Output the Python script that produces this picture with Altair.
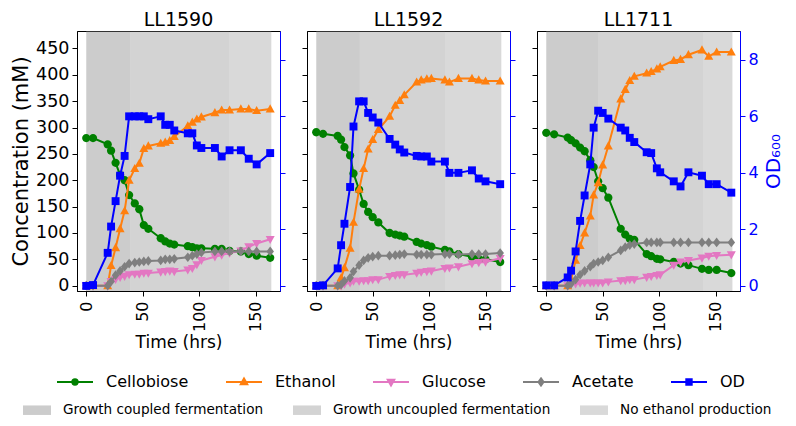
import altair as alt
import pandas as pd

# ---------------- data ----------------
panels = ["LL1590", "LL1592", "LL1711"]
series_names = ["Cellobiose", "Ethanol", "Glucose", "Acetate", "OD"]
series_colors = ["#008000", "#ff7f0e", "#e377c2", "#7f7f7f", "#0000ff"]
# plot markers (normalised symbol paths): circle, triangle up, triangle down, diamond, square
marker_paths = [
    "M-0.23,0A0.23,0.23,0,1,0,0.23,0A0.23,0.23,0,1,0,-0.23,0Z",
    "M0,-0.26L0.25,0.19L-0.25,0.19Z",
    "M0,0.26L0.25,-0.19L-0.25,-0.19Z",
    "M0,-0.27L0.21,0L0,0.27L-0.21,0Z",
    "M-0.22,-0.22L0.22,-0.22L0.22,0.22L-0.22,0.22Z",
]
# legend glyphs: line segment with the marker in its middle
legend_paths = [
    "M-1,0L1,0M-0.15,0A0.15,0.15,0,1,0,0.15,0A0.15,0.15,0,1,0,-0.15,0Z",
    "M-1,0L1,0M0,-0.19L0.18,0.13L-0.18,0.13Z",
    "M-1,0L1,0M0,0.19L0.18,-0.13L-0.18,-0.13Z",
    "M-1,0L1,0M0,-0.2L0.14,0L0,0.2L-0.14,0Z",
    "M-1,0L1,0M-0.15,-0.15L0.15,-0.15L0.15,0.15L-0.15,0.15Z",
]

phase_names = ["Growth coupled fermentation", "Growth uncoupled fermentation", "No ethanol production"]
phase_opacity = [0.4, 0.3, 0.2]

# LL1590
time_1590 = [0, 6, 19, 22, 26, 30, 34, 38, 43, 47, 51, 55, 66, 70, 74, 78, 90, 94, 98, 102, 114, 120, 127, 137, 144, 151, 163]
cellobiose_1590 = [280, 280, 268, 256, 233, 210, 200, 172, 156, 145, 115, 108, 90, 84, 80, 78, 75, 73, 71, 71, 70, 70, 66, 65, 60, 57, 53]
ethanol_1590 = [0, 0, 0, 38, 72, 108, 142, 200, 222, 232, 260, 265, 270, 272, 275, 283, 303, 310, 316, 320, 328, 333, 333, 335, 335, 332, 335]
glucose_1590 = [0, 0, 0, 8, 12, 16, 18, 21, 22, 22, 24, 24, 26, 27, 28, 27, 30, 33, 40, 48, 55, 58, 62, 66, 74, 80, 88]
acetate_1590 = [0, 0, 0, 8, 20, 28, 36, 42, 44, 45, 46, 47, 48, 50, 50, 51, 54, 57, 60, 63, 65, 65, 65, 65, 65, 65, 65]
od_1590 = [0, 0.03, 1.17, 2.1, 3.0, 3.9, 4.6, 6.0, 6.0, 6.0, 6.0, 5.9, 6.0, 5.7, 5.7, 5.5, 5.4, 5.4, 4.97, 4.88, 4.88, 4.58, 4.8, 4.8, 4.5, 4.3, 4.7]
phases_1590 = [0, 39, 127, 164]

# LL1592
time_1592 = [0, 6, 19, 22, 25, 30, 33, 38, 42, 46, 50, 55, 65, 70, 74, 78, 89, 93, 98, 102, 114, 118, 126, 138, 144, 150, 163]
cellobiose_1592 = [291, 288, 284, 277, 263, 247, 213, 182, 155, 140, 130, 120, 100, 97, 95, 93, 83, 80, 77, 74, 68, 65, 60, 55, 51, 50, 45]
ethanol_1592 = [0, 0, 0, 15, 34, 71, 120, 183, 222, 259, 277, 296, 321, 342, 351, 362, 386, 390, 392, 393, 390, 386, 393, 393, 390, 388, 388]
glucose_1592 = [0, 0, 0, 0, 3, 5.5, 8.6, 8.6, 9.8, 9.8, 11.6, 11.6, 17.7, 19.6, 20.8, 20.8, 23.8, 25.7, 26.9, 28, 33, 34, 36, 42, 44, 45, 52]
acetate_1592 = [0, 0, 0, 2, 9, 15, 27, 39, 48, 53, 55, 57, 57, 58, 59, 60, 59, 59, 59, 59, 60, 60, 59, 60, 60, 60, 62]
od_1592 = [0, 0.02, 0.62, 1.44, 2.2, 3.5, 5.64, 6.53, 6.53, 6.12, 5.96, 5.78, 5.2, 5.0, 4.83, 4.72, 4.6, 4.58, 4.58, 4.4, 4.4, 4.0, 4.0, 4.09, 3.8, 3.7, 3.6]
phases_1592 = [0, 38.6, 114.6, 164]

# LL1711
time_1711 = [0, 7, 19, 22, 26, 30, 34, 39, 42, 46, 50, 55, 66, 70, 74, 78, 89, 93, 98, 101, 113, 119, 126, 138, 144, 151, 164]
cellobiose_1711 = [290, 287, 281, 276, 270, 262, 255, 238, 225, 198, 185, 167, 108, 97, 89, 87, 60, 56, 51, 50, 45, 42, 39, 32, 30, 30, 24]
ethanol_1711 = [0, 0, 0, 12, 48, 76, 100, 132, 172, 195, 229, 265, 354, 372, 389, 397, 403, 406, 411, 415, 427, 429, 438, 447, 435, 443, 443]
glucose_1711 = [0, 0, 0, 3.7, 3.7, 4.9, 5.5, 5.5, 5.5, 5.5, 5.5, 7.3, 9.8, 9.8, 11.6, 11.6, 16, 17.7, 19.6, 20.8, 39, 45, 48, 52.6, 56, 57.5, 58.7]
acetate_1711 = [0, 0, 0, 3.7, 11.6, 20.8, 28, 36, 42, 45, 48, 54, 67, 73, 77, 79, 82, 82, 82, 82, 82, 82, 82, 82, 82, 82, 82]
od_1711 = [0.02, 0.02, 0.3, 0.54, 1.22, 2.3, 3.2, 4.3, 5.6, 6.2, 6.12, 5.92, 5.6, 5.5, 5.24, 5.09, 4.73, 4.7, 4.16, 4.02, 3.7, 3.52, 4.02, 3.9, 3.6, 3.6, 3.3]
phases_1711 = [0, 46, 139, 165]

panel_data = {
    "LL1590": (time_1590, [cellobiose_1590, ethanol_1590, glucose_1590, acetate_1590], od_1590, phases_1590),
    "LL1592": (time_1592, [cellobiose_1592, ethanol_1592, glucose_1592, acetate_1592], od_1592, phases_1592),
    "LL1711": (time_1711, [cellobiose_1711, ethanol_1711, glucose_1711, acetate_1711], od_1711, phases_1711),
}

# ---------------- styling ----------------
FONT = "DejaVu Sans"
W, H = 203, 260
YTICK_FS = 17.5
XTICK_FS = 16
XTITLE_FS = 17
YTITLE_FS = 21
LEG1_FS = 16
LEG2_FS = 13.6

opac_scale = alt.Scale(domain=phase_names, range=phase_opacity)
leg_fill_scale = alt.Scale(domain=series_names, range=series_colors)
leg_shape_scale = alt.Scale(domain=series_names, range=legend_paths)

LEG1_X, LEG1_Y = -21, H + 72
LEG2_X, LEG2_Y = -54, H + 105

leg_series = alt.Legend(title=None, orient="none", legendX=LEG1_X, legendY=LEG1_Y, direction="horizontal",
                        symbolSize=1296, symbolStrokeWidth=2, symbolOpacity=1, labelFontSize=LEG1_FS,
                        labelFont=FONT, labelOffset=12, columnPadding=33, labelColor="black", labelLimit=400)
leg_phase = alt.Legend(title=None, orient="none", legendX=LEG2_X, legendY=LEG2_Y, direction="horizontal",
                       symbolType="M-1,-0.34L1,-0.34L1,0.34L-1,0.34Z", symbolSize=784, symbolStrokeWidth=0,
                       symbolFillColor="gray", labelFontSize=LEG2_FS, labelFont=FONT, labelOffset=12,
                       columnPadding=29, labelColor="black", labelLimit=400)

x_scale = alt.Scale(domain=[-8.2, 171.7], nice=False, zero=False)
y_scale = alt.Scale(domain=[-10, 483], nice=False, zero=False)
od_scale = alt.Scale(domain=[-0.18, 9.02], nice=False, zero=False)


def make_panel(idx, name):
    times, conc_lists, od_vals, bounds = panel_data[name]
    first, last = idx == 0, idx == 2

    rows = []
    for s, vals in zip(series_names[:4], conc_lists):
        for t, v in zip(times, vals):
            rows.append({"t": t, "value": v, "series": s})
    conc_df = pd.DataFrame(rows)
    od_df = pd.DataFrame({"t": times, "od": od_vals, "series": series_names[4]})
    band_df = pd.DataFrame({"start": bounds[:-1], "end": bounds[1:], "phase": phase_names})

    x_axis = alt.Axis(values=[0, 50, 100, 150], labelAngle=270, title="Time (hrs)", grid=False,
                      labelFontSize=XTICK_FS, titleFontSize=XTITLE_FS, tickSize=5, labelPadding=5,
                      titlePadding=3)
    x_enc = alt.X("t:Q", scale=x_scale, axis=x_axis)

    bands = alt.Chart(band_df).mark_rect(color="gray").encode(
        x=alt.X("start:Q", scale=x_scale, axis=x_axis),
        x2="end:Q",
        opacity=alt.Opacity("phase:O", scale=opac_scale, legend=leg_phase),
    )

    y_axis = alt.Axis(values=list(range(0, 451, 50)), labels=first, grid=False,
                      title="Concentration (mM)" if first else "", labelFontSize=YTICK_FS,
                      titleFontSize=YTITLE_FS, tickSize=5, labelPadding=3, titlePadding=4)
    y_enc = alt.Y("value:Q", scale=y_scale, axis=y_axis)

    conc_layers = []
    for i, s in enumerate(series_names[:4]):
        base = alt.Chart(conc_df).transform_filter(alt.datum.series == s)
        conc_layers.append(base.mark_line(color=series_colors[i], strokeWidth=2).encode(x=x_enc, y=y_enc))
        conc_layers.append(base.mark_point(filled=True, color=series_colors[i], shape=marker_paths[i],
                                           size=1296, opacity=1).encode(x=x_enc, y=y_enc))
    # legend carrier: no rows survive the filter, the legend comes from the explicit scale domains
    legend_layer = alt.Chart(conc_df).transform_filter("false").mark_point(filled=True).encode(
        x=x_enc, y=y_enc,
        fill=alt.Fill("series:N", scale=leg_fill_scale, legend=leg_series),
        stroke=alt.Stroke("series:N", scale=leg_fill_scale, legend=leg_series),
        shape=alt.Shape("series:N", scale=leg_shape_scale, legend=leg_series),
    )
    conc_layers.append(legend_layer)
    conc = alt.layer(*conc_layers)

    od_axis = alt.Axis(orient="right", values=[0, 2, 4, 6, 8], labels=last, grid=False,
                       title="OD₆₀₀" if last else "", titleAngle=270, titleBaseline="top",
                       domainColor="blue", tickColor="blue",
                       labelColor="blue", titleColor="blue", labelFontSize=XTICK_FS,
                       titleFontSize=20, tickSize=5, labelPadding=3, titlePadding=5)
    od_enc = alt.Y("od:Q", scale=od_scale, axis=od_axis)
    od_base = alt.Chart(od_df)
    od_line = od_base.mark_line(color=series_colors[4], strokeWidth=2).encode(x=x_enc, y=od_enc)
    od_pts = od_base.mark_point(filled=True, color=series_colors[4], shape=marker_paths[4],
                                size=1296, opacity=1).encode(x=x_enc, y=od_enc)
    od = alt.layer(od_line, od_pts)

    return alt.layer(bands, conc, od).resolve_scale(y="independent").properties(
        width=W, height=H,
        title=alt.TitleParams(name, fontSize=19, font=FONT, fontWeight="normal", offset=1),
    )


chart = alt.hconcat(*[make_panel(i, n) for i, n in enumerate(panels)], spacing=27, bounds="flush").configure(
    font=FONT, padding={"left": 2, "top": 2, "right": 2, "bottom": 0}
).configure_view(stroke="black", strokeWidth=1).configure_axis(
    labelFont=FONT, titleFont=FONT, titleFontWeight="normal", labelColor="black", titleColor="black",
    domainColor="black", tickColor="black",
)

chart.save("out.html", embed_options={"renderer": "svg", "actions": False})
